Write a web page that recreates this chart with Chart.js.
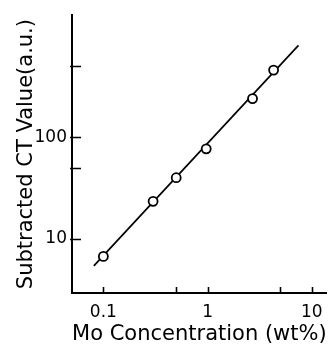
<!DOCTYPE html>
<html>
<head>
<meta charset="utf-8">
<script src="https://cdn.jsdelivr.net/npm/chart.js@4/dist/chart.umd.min.js"></script>
<style>
  html, body { margin: 0; padding: 0; background: #fff; }
  #wrap { width: 333px; height: 349px; }
</style>
</head>
<body>
<div id="wrap"><canvas id="ct-chart"></canvas></div>
<script>
// Medidas: concentración de Mo (wt%) y valor CT restado (u.a.)
const moConc = [0.1, 0.3, 0.5, 0.97, 2.7, 4.3];
const ctValue = [6.7, 23.4, 40, 77, 241, 460];

// Extremos de la recta de ajuste
const fitConc = [0.081, 7.45];
const fitValue = [5.4, 806];

// Marcas de los ejes (solo algunas llevan texto)
const xTickValues = [0.1, 0.5, 1, 5, 10];
const xTickLabels = ['0.1', '', '1', '', '10'];
const yTickValues = [10, 50, 100, 500];
const yTickLabels = ['10', '', '100', ''];

const fuente = '"DejaVu Sans", sans-serif';

// Dibuja las marcas de los ejes hacia dentro del área del gráfico
const marcasInternas = {
    id: 'marcasInternas',
    afterDraw(chart) {
        const { ctx, chartArea, scales } = chart;
        ctx.save();
        ctx.strokeStyle = '#000';
        ctx.lineWidth = 1.6;
        ctx.beginPath();
        scales.x.ticks.forEach(t => {
            const px = Math.round(scales.x.getPixelForValue(t.value)) + 0.5;
            ctx.moveTo(px, chartArea.bottom + 1);
            ctx.lineTo(px, chartArea.bottom - 6);
        });
        scales.y.ticks.forEach(t => {
            const py = Math.round(scales.y.getPixelForValue(t.value)) + 0.5;
            ctx.moveTo(chartArea.left - 2, py);
            ctx.lineTo(chartArea.left + 9, py);
        });
        ctx.stroke();
        ctx.restore();
    }
};

const puntos = moConc.map((x, i) => ({ x, y: ctValue[i] }));
const recta = fitConc.map((x, i) => ({ x, y: fitValue[i] }));

new Chart(document.getElementById('ct-chart'), {
    type: 'scatter',
    data: {
        datasets: [
            {
                data: puntos,
                order: 0,
                pointRadius: 4.5,
                pointBorderWidth: 1.8,
                pointBackgroundColor: '#fff',
                pointBorderColor: '#000',
                showLine: false
            },
            {
                data: recta,
                order: 1,
                showLine: true,
                borderColor: '#000',
                borderWidth: 1.7,
                pointRadius: 0
            }
        ]
    },
    options: {
        responsive: true,
        maintainAspectRatio: false,
        animation: false,
        layout: { padding: { top: 11, right: 6, left: 0, bottom: 0 } },
        plugins: {
            legend: { display: false },
            tooltip: { enabled: false }
        },
        scales: {
            x: {
                type: 'logarithmic',
                min: 0.05,
                max: 13.9,
                grid: { display: false, drawTicks: false },
                border: { display: true, color: '#000', width: 2 },
                afterBuildTicks: scale => {
                    scale.ticks = xTickValues.map(v => ({ value: v }));
                },
                afterFit: scale => { scale.height = 56; },
                ticks: {
                    autoSkip: false,
                    maxRotation: 0,
                    padding: 9,
                    color: '#000',
                    font: { family: fuente, size: 17 },
                    callback: (value, index) => xTickLabels[index]
                },
                title: {
                    display: true,
                    text: 'Mo Concentration (wt%)',
                    color: '#000',
                    font: { family: fuente, size: 21, lineHeight: 1 },
                    padding: { top: 0, bottom: 4 }
                }
            },
            y: {
                type: 'logarithmic',
                min: 2.92,
                max: 1600,
                grid: { display: false, drawTicks: false },
                border: { display: true, color: '#000', width: 2 },
                afterBuildTicks: scale => {
                    scale.ticks = yTickValues.map(v => ({ value: v }));
                },
                afterFit: scale => { scale.width = 72; },
                ticks: {
                    autoSkip: false,
                    padding: 5,
                    color: '#000',
                    font: { family: fuente, size: 17 },
                    callback: (value, index) => yTickLabels[index]
                },
                title: {
                    display: true,
                    text: 'Subtracted CT Value(a.u.)',
                    color: '#000',
                    font: { family: fuente, size: 21, lineHeight: 1 },
                    padding: { top: 16, bottom: 0 }
                }
            }
        }
    },
    plugins: [marcasInternas]
});
</script>
</body>
</html>
